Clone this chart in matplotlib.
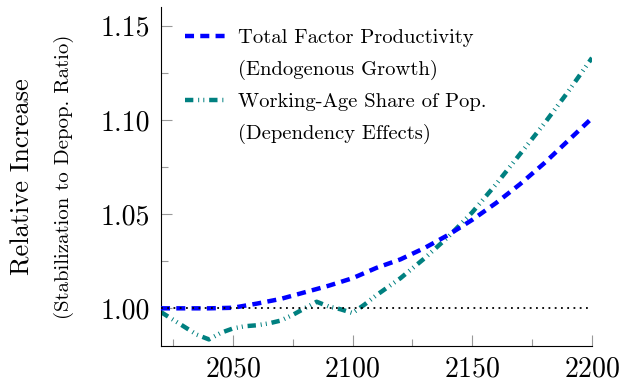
import numpy as np
import matplotlib.pyplot as plt
from matplotlib.lines import Line2D
from matplotlib.ticker import MultipleLocator, FormatStrFormatter

plt.rcParams['font.family'] = ['cmr10', 'DejaVu Serif']
plt.rcParams['axes.formatter.use_mathtext'] = True
plt.rcParams['lines.scale_dashes'] = False

# TFP channel (endogenous growth), 10-year steps
tfp_years = [2020, 2030, 2040, 2050, 2060, 2070, 2080, 2090, 2100, 2110,
             2120, 2130, 2140, 2150, 2160, 2170, 2180, 2190, 2200]
tfp_ratio = [1.000, 1.000, 1.000, 1.0003, 1.0025, 1.005, 1.0085, 1.012, 1.016, 1.0215,
             1.026, 1.032, 1.039, 1.047, 1.056, 1.066, 1.077, 1.089, 1.101]

# working-age share channel (dependency effects)
wap_years = [2020, 2025, 2030, 2035, 2040, 2045, 2050, 2055, 2060, 2065, 2070, 2075,
             2080, 2085, 2090, 2095, 2100, 2105, 2110, 2120, 2130, 2140, 2150,
             2160, 2170, 2180, 2190, 2200]
wap_ratio = [0.998, 0.994, 0.990, 0.986, 0.9835, 0.987, 0.9893, 0.9905, 0.991, 0.992,
             0.9935, 0.9965, 1.000, 1.0035, 1.001, 0.9995, 0.9975, 1.002, 1.007,
             1.016, 1.0265, 1.038, 1.051, 1.066, 1.082, 1.098, 1.115, 1.133]

blue = (0, 0, 1)
teal = (0, 0.5, 0.5)

fig = plt.figure(figsize=(6.21, 3.83), dpi=100)
ax = fig.add_axes([161/621, 37/383, 431/621, 339/383])

l1, = ax.plot(tfp_years, tfp_ratio, color=blue, lw=3.2,
              linestyle=(0, (6.5, 4.5)), dash_capstyle='butt', zorder=3)
l2, = ax.plot(wap_years, wap_ratio, color=teal, lw=3.2,
              linestyle=(0, (6, 3.5, 0.7, 3, 0.7, 3.5)), dash_capstyle='butt', zorder=2)
ax.axhline(1.0, color='black', lw=1.3, linestyle=(0, (1.3, 3.2)), zorder=4)

ax.set_xlim(2020, 2200)
ax.set_ylim(0.98, 1.16)
ax.xaxis.set_major_locator(MultipleLocator(50))
ax.xaxis.set_minor_locator(MultipleLocator(25))
ax.yaxis.set_major_locator(MultipleLocator(0.05))
ax.yaxis.set_minor_locator(MultipleLocator(0.025))
ax.yaxis.set_major_formatter(FormatStrFormatter('%.2f'))

for s in ['top', 'right']:
    ax.spines[s].set_visible(False)
for s in ['left', 'bottom']:
    ax.spines[s].set_linewidth(0.8)

ax.tick_params(which='both', direction='in', color='#999999', width=0.8, labelsize=20)
ax.tick_params(which='major', length=8)
ax.tick_params(which='minor', length=5)
ax.tick_params(axis='y', pad=8)
ax.tick_params(axis='x', pad=7)

fig.text(23/621, 1 - 177/383, 'Relative Increase', rotation=90,
         ha='center', va='center', fontsize=19)
fig.text(64/621, 1 - 177/383, '(Stabilization to Depop. Ratio)', rotation=90,
         ha='center', va='center', fontsize=15)

blank = Line2D([], [], linestyle='none')
ax.legend([l1, blank, l2, blank],
          ['Total Factor Productivity', '(Endogenous Growth)',
           'Working-Age Share of Pop.', '(Dependency Effects)'],
          loc='upper left', bbox_to_anchor=(0.0557, 0.935), frameon=False,
          fontsize=14.8, borderpad=0, borderaxespad=0, handlelength=1.95,
          handletextpad=0.62, labelspacing=0.62)

fig.savefig('out.png', dpi=100)
